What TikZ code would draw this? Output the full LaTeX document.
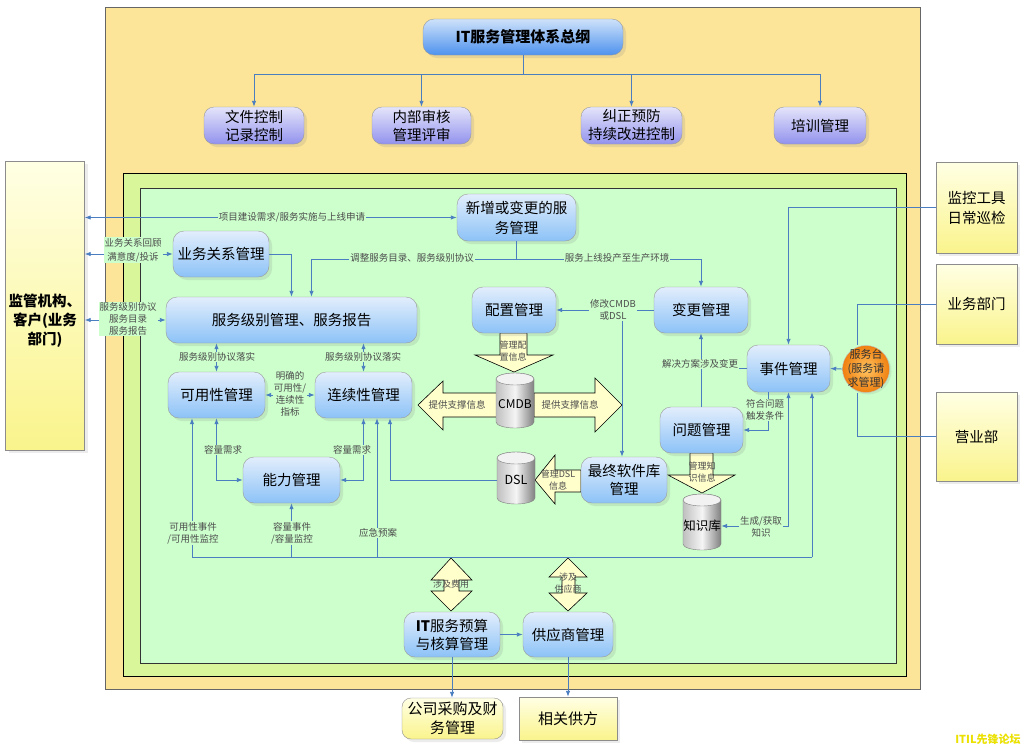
\documentclass[tikz,border=0pt]{standalone}
\usepackage{fontspec}
\setmainfont{Noto Sans CJK SC}
\usepackage{tikz}
\usetikzlibrary{arrows.meta,shadows}
\definecolor{frame orange}{RGB}{252,229,153}
\definecolor{frame lime}{RGB}{218,246,154}
\definecolor{frame green}{RGB}{204,255,204}
\definecolor{proc top}{RGB}{226,238,252}
\definecolor{proc bottom}{RGB}{140,194,247}
\definecolor{head top}{RGB}{206,226,250}
\definecolor{head bottom}{RGB}{78,146,238}
\definecolor{policy top}{RGB}{228,228,250}
\definecolor{policy bottom}{RGB}{146,146,238}
\definecolor{party top}{RGB}{255,255,228}
\definecolor{party bottom}{RGB}{250,244,140}
\definecolor{line blue}{RGB}{74,126,193}
\definecolor{arrow yellow}{RGB}{255,255,204}
\definecolor{desk inner}{RGB}{255,196,96}
\definecolor{desk outer}{RGB}{240,128,16}
\definecolor{wm yellow}{RGB}{235,225,0}

\tikzset{
  proc/.style={draw=black!40, rounded corners=11pt, top color=proc top, bottom color=proc bottom,
    align=center, inner sep=1pt, minimum height=46pt, font=\fontsize{14.5}{18}\selectfont,
    drop shadow={opacity=0.18, shadow xshift=3pt, shadow yshift=-3pt}},
  policy/.style={proc, rounded corners=10pt, top color=policy top, bottom color=policy bottom, minimum height=37pt},
  party/.style={draw=black!45, top color=party top, bottom color=party bottom, align=center, inner sep=1pt,
    font=\fontsize{14.5}{20}\selectfont, drop shadow={opacity=0.15, shadow xshift=3pt, shadow yshift=-3pt}},
  tag/.style={fill=frame green, inner sep=1pt, align=center, text=black!70, font=\fontsize{9.5}{12}\selectfont},
  flow/.style={draw=line blue, line width=0.9pt, -{Latex[length=6pt,width=4.5pt]}},
  flow both/.style={flow, {Latex[length=6pt,width=4.5pt]}-{Latex[length=6pt,width=4.5pt]}},
  plain flow/.style={draw=line blue, line width=0.9pt},
  fat arrow/.style={draw=black, fill=arrow yellow, line width=0.6pt},
  fat text/.style={text=black!70, align=center, inner sep=0pt, font=\fontsize{9}{11.5}\selectfont},
}

\begin{document}
\begin{tikzpicture}[x=1pt, y=-1pt]
  \fill[white] (0,0) rectangle (1024,748);
  \useasboundingbox (0,0) rectangle (1024,748);
  % frames
  \filldraw[fill=frame orange, draw=black!60] (105,7) rectangle (920,689);
  \filldraw[fill=frame lime, draw=black] (123,173) rectangle (906,676);
  \filldraw[fill=frame green, draw=black!80] (140,188) rectangle (896,663);

  % top part: system outline
  \node[proc, top color=head top, bottom color=head bottom, minimum width=200pt, minimum height=36pt,
    font=\bfseries\fontsize{15}{18}\selectfont] (gang) at (523,37) {IT服务管理体系总纲};
  \node[policy, minimum width=100pt] (wjkz) at (254,125.5) {文件控制\\记录控制};
  \node[policy, minimum width=99pt] (nbsh) at (421.5,125.5) {内部审核\\管理评审};
  \node[policy, minimum width=101pt] (jzyf) at (631.5,125.5) {纠正预防\\持续改进控制};
  \node[policy, minimum width=92pt] (pxgl) at (820,125.5) {培训管理};
  \coordinate (gang hub) at (523,74);
  \draw[plain flow] (gang.south) -- (gang hub);
  \foreach \n in {wjkz,nbsh,jzyf,pxgl}
    \draw[flow] (gang hub) -| (\n.north);

  % fat arrows
  \draw[fat arrow] (500,333) -- (527,333) -- (527,355) -- (553,355) -- (514,372) -- (475,355) -- (500,355) -- cycle;
  \draw[fat arrow] (497,393) -- (443,393) -- (443,381) -- (418,405) -- (443,430) -- (443,417) -- (497,417) -- cycle;
  \draw[fat arrow] (534,393) -- (595,393) -- (595,378) -- (622,405) -- (595,432) -- (595,417) -- (534,417) -- cycle;
  \draw[fat arrow] (581,470) -- (555,470) -- (555,455) -- (535,480) -- (555,504) -- (555,492) -- (581,492) -- cycle;
  \draw[fat arrow] (690,453) -- (713,453) -- (713,475) -- (735,475) -- (702,493) -- (668,475) -- (690,475) -- cycle;
  \draw[fat arrow] (451,558) -- (472,580) -- (459,580) -- (459,591) -- (472,591) -- (451,611) -- (431,591)
    -- (444,591) -- (444,580) -- (431,580) -- cycle;
  \draw[fat arrow] (568,558) -- (587,577) -- (575,577) -- (575,593) -- (587,593) -- (568,611) -- (549,593)
    -- (562,593) -- (562,577) -- (549,577) -- cycle;

  % databases
  \foreach \cx/\cu/\cl in {515/373/428, 516/452/504, 702/494/550}{
    \draw[black!50, left color=black!25, right color=black!50, middle color=black!4]
      (\cx-19,\cu+6) -- (\cx-19,\cl-6) arc[start angle=180, end angle=0, x radius=19, y radius=6]
      -- (\cx+19,\cu+6) arc[start angle=0, end angle=-180, x radius=19, y radius=6] -- cycle;
    \draw[black!50, fill=black!5] (\cx,\cu+6) ellipse[x radius=19, y radius=6];
  }
  \node[minimum width=38pt, minimum height=55pt, inner sep=0pt, font=\fontsize{12}{14}\selectfont] (cmdb) at (515,404) {CMDB};
  \node[minimum width=38pt, minimum height=52pt, inner sep=0pt, font=\fontsize{12.5}{14}\selectfont] (dsl) at (516,480) {DSL};
  \node[minimum width=38pt, minimum height=56pt, inner sep=0pt, font=\fontsize{12.5}{14}\selectfont] (zsk) at (702,526) {知识库};

  % service nodes
  \node[proc, minimum width=119pt, minimum height=47pt, font=\fontsize{14.5}{20}\selectfont] (xzfw) at (516.5,217.5) {新增或变更的服\\务管理};
  \node[proc, minimum width=96pt] (ywgx) at (221,254) {业务关系管理};
  \node[proc, minimum width=251pt] (fwjb) at (291.5,320) {服务级别管理、服务报告};
  \node[proc, minimum width=84pt] (pzgl) at (514,310) {配置管理};
  \node[proc, minimum width=94pt] (bggl) at (701,310) {变更管理};
  \node[proc, minimum width=97pt] (kyx) at (216.5,395) {可用性管理};
  \node[proc, minimum width=97pt] (lxx) at (363.5,395) {连续性管理};
  \node[proc, minimum width=83pt, minimum height=47pt] (sjgl) at (788.5,368.5) {事件管理};
  \node[proc, minimum width=83pt] (wtgl) at (701.5,430) {问题管理};
  \node[proc, minimum width=97pt] (nlgl) at (291.5,480) {能力管理};
  \node[proc, minimum width=86pt] (zzrj) at (624,480) {最终软件库\\管理};
  \node[proc, minimum width=96pt, minimum height=45pt] (ysgl) at (452,634.5) {\textbf{IT}服务预算\\与核算管理};
  \node[proc, minimum width=90pt, minimum height=45pt] (gysgl) at (568,634.5) {供应商管理};
  \node[circle, draw=black!25, inner color=desk inner, outer color=desk outer, minimum size=47pt, inner sep=0pt,
    align=center, font=\fontsize{11}{14}\selectfont, text=black!80,
    drop shadow={opacity=0.15, shadow xshift=2pt, shadow yshift=-2pt}] (fwt) at (866,369)
    {\makebox[0pt]{服务台}\\\makebox[0pt]{(服务请}\\\makebox[0pt]{求管理)}};

  % outside parties
  \node[party, minimum width=79pt, minimum height=289pt] (jgjg) at (45,305.5) {};
  \node[font=\bfseries\fontsize{14.5}{19}\selectfont, align=center] (jgjg text) at (45,321) {监管机构、\\客户(业务\\部门)};
  \node[party, minimum width=81pt, minimum height=91pt] (jkgj) at (976.5,207.5) {监控工具\\日常巡检};
  \node[party, minimum width=81pt, minimum height=80pt] (ywbm) at (976.5,304) {业务部门};
  \node[party, minimum width=81pt, minimum height=89pt] (yyb) at (976.5,436.5) {营业部};
  \node[party, rounded corners=9pt, minimum width=101pt, minimum height=41pt, font=\fontsize{15}{19}\selectfont] (cgcw) at (452.5,718.5) {公司采购及财\\务管理};
  \node[party, minimum width=98pt, minimum height=43pt, font=\fontsize{15}{19}\selectfont] (xggf) at (568,718.5) {相关供方};

  % connectors to the customers
  \draw[flow both] (jgjg.east |- xzfw) -- (xzfw.west);
  \draw[flow both] (jgjg.east |- ywgx) -- (ywgx.west);
  \draw[flow both] (jgjg.east |- fwjb) -- (fwjb.west);
  \node[tag] (t xmjs) at (292,217) {项目建设需求/服务实施与上线申请};
  \node[tag] (t ywhg) at (133,250) {业务关系回顾\\[2pt]满意度/投诉};
  \node[tag] (t fwxy) at (128,319) {服务级别协议\\服务目录\\服务报告};

  % service level part
  \draw[flow] (ywgx.east) -| (fwjb.north);
  \coordinate (xz split) at (516.5,259);
  \draw[plain flow] (xzfw.south) -- (xz split);
  \draw[flow] (xz split) -| ([xshift=20pt]fwjb.north);
  \draw[flow] (xz split) -| (bggl.north);
  \node[tag] (t tz) at (412,258) {调整服务目录、服务级别协议};
  \node[tag] (t sx) at (617,258) {服务上线投产至生产环境};
  \draw[flow both] (fwjb.south -| kyx) -- (kyx.north);
  \draw[flow both] (fwjb.south -| lxx) -- (lxx.north);
  \node[tag] (t lsa) at (217,357) {服务级别协议落实};
  \node[tag] (t lsb) at (363,357) {服务级别协议落实};
  \draw[flow both] (kyx.east) -- (lxx.west);
  \node[tag] (t zb) at (290,394) {明确的\\可用性/\\连续性\\指标};
  \draw[flow both] (kyx.south) |- (nlgl.west);
  \draw[flow both] (lxx.south) |- (nlgl.east);
  \node[tag] (t rla) at (223,450) {容量需求};
  \node[tag] (t rlb) at (352,450) {容量需求};

  % event bus
  \coordinate (bus a) at (192,557);
  \coordinate (bus b) at (377,557);
  \coordinate (bus c) at (812,557);
  \draw[plain flow] (bus a) -- (bus c);
  \draw[flow] (bus a) -- (bus a |- kyx.south);
  \draw[flow] (nlgl.south |- bus a) -- (nlgl.south);
  \draw[flow] (bus b) -- (bus b |- lxx.south);
  \draw[flow] (bus c) -- (bus c |- sjgl.south);
  \node[tag] (t kysj) at (193,533) {可用性事件\\/可用性监控};
  \node[tag] (t rlsj) at (292,533) {容量事件\\/容量监控};
  \node[tag] (t yj) at (378,533) {应急预案};
  \draw[flow] (dsl.west) -| ([xshift=26.5pt]lxx.south);

  % change and configuration
  \draw[flow] (bggl.west) -- (pzgl.east);
  \coordinate (xg split) at (622,310);
  \draw[flow] (xg split) -- (xg split |- zzrj.north);
  \node[tag] (t xg) at (613,310) {修改CMDB\\或DSL};
  \draw[flow] (sjgl.west) -| (bggl.south);
  \draw[plain flow] (wtgl.north) -- (wtgl.north |- sjgl.west);
  \node[tag] (t jj) at (700,364) {解决方案涉及变更};
  \draw[flow] ([xshift=-20pt]sjgl.south) |- (wtgl.east);
  \node[tag] (t fh) at (765,410) {符合问题\\触发条件};
  \draw[flow both] (zsk.east) -| (sjgl.south);
  \node[tag] (t sc) at (761,527) {生成/获取\\知识};

  % service desk inputs
  \draw[flow] (jkgj.west) -| (sjgl.north);
  \draw[plain flow] (ywbm.west) -| ([xshift=-9pt]fwt.north);
  \draw[plain flow] (yyb.west) -| ([xshift=-9pt]fwt.south);
  \draw[flow] (fwt.west) -- (sjgl.east);

  % budget and supplier
  \draw[flow] (ysgl.east) -- (gysgl.west);
  \draw[flow] (ysgl.south) -- (ysgl.south |- cgcw.north);
  \draw[flow] (gysgl.south) -- (xggf.north);

  % texts on the fat arrows
  \node[fat text] (t pz) at (513,351) {管理配\\置信息};
  \node[fat text, font=\fontsize{9.5}{12}\selectfont] (t zca) at (457,405) {提供支撑信息};
  \node[fat text, font=\fontsize{9.5}{12}\selectfont] (t zcb) at (570,405) {提供支撑信息};
  \node[fat text] (t dsl) at (558,480) {管理DSL\\信息};
  \node[fat text] (t zs) at (702,472) {管理知\\识信息};
  \node[fat text] (t fy) at (451,584) {涉及费用};
  \node[fat text] (t gys) at (568,583) {涉及\\供应商};

  \node[font=\bfseries\fontsize{11}{13}\selectfont, text=wm yellow] (wm) at (988,739) {ITIL先锋论坛};
\end{tikzpicture}
\end{document}
